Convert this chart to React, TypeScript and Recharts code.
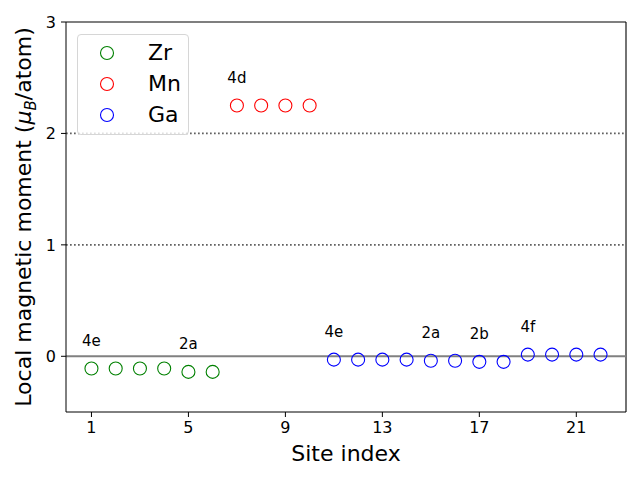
import {
  ScatterChart,
  Scatter,
  XAxis,
  YAxis,
  ReferenceLine,
} from 'recharts';

const FONT = '"DejaVu Sans", sans-serif';

// site index / moment per species
const zrX = [1, 2, 3, 4, 5, 6];
const zrY = [-0.11, -0.11, -0.11, -0.11, -0.14, -0.14];
const mnX = [7, 8, 9, 10];
const mnY = [2.25, 2.25, 2.25, 2.25];
const gaX = [11, 12, 13, 14, 15, 16, 17, 18, 19, 20, 21, 22];
const gaY = [-0.03, -0.03, -0.03, -0.03, -0.04, -0.04, -0.05, -0.05, 0.015, 0.015, 0.015, 0.015];

// Wyckoff site labels
const annoX = [1, 5, 7, 11, 15, 17, 19];
const annoY = [0.14, 0.11, 2.5, 0.22, 0.21, 0.2, 0.26];
const annoText = ['4e', '2a', '4d', '4e', '2a', '2b', '4f'];

const xTicks = [1, 5, 9, 13, 17, 21];
const yTicks = [0, 1, 2, 3];
const xDomain = [-0.05, 23.05];
const yDomain = [-0.5, 3];

const zip = (xs: number[], ys: number[]) => xs.map((x, i) => ({ x, y: ys[i] }));
const zrData = zip(zrX, zrY);
const mnData = zip(mnX, mnY);
const gaData = zip(gaX, gaY);
const annoData = annoX.map((x, i) => ({ x, y: annoY[i], t: annoText[i] }));

const colors: Record<string, string> = { Zr: '#008000', Mn: '#ff0000', Ga: '#0000ff' };

const ring = (color: string) => (props: any) => (
  <circle cx={props.cx} cy={props.cy} r={6.5} fill="none" stroke={color} strokeWidth={1.1} />
);

const annoShape = (props: any) => (
  <text
    x={props.cx}
    y={props.cy}
    textAnchor="middle"
    dominantBaseline="central"
    fontSize={15}
    fontFamily={FONT}
    fill="#000"
  >
    {props.payload.t}
  </text>
);

function YLabel(props: any) {
  const vb = props.viewBox;
  const cx = 31;
  const cy = vb.y + vb.height / 2;
  return (
    <text
      x={cx}
      y={cy}
      transform={`rotate(-90, ${cx}, ${cy})`}
      textAnchor="middle"
      fontSize={22}
      fontFamily={FONT}
      fill="#000"
    >
      Local magnetic moment (
      <tspan fontStyle="italic">μ</tspan>
      <tspan fontStyle="italic" fontSize={15} dy={5}>B</tspan>
      <tspan dy={-5}>/atom)</tspan>
    </text>
  );
}

function XLabel(props: any) {
  const vb = props.viewBox;
  return (
    <text
      x={vb.x + vb.width / 2}
      y={461}
      textAnchor="middle"
      fontSize={22}
      fontFamily={FONT}
      fill="#000"
    >
      Site index
    </text>
  );
}

function LegendBox() {
  const names = ['Zr', 'Mn', 'Ga'];
  return (
    <div
      style={{
        position: 'absolute',
        left: 77,
        top: 34,
        width: 110,
        height: 97,
        border: '1px solid #d6d6d6',
        borderRadius: 4,
        background: 'rgba(255,255,255,0.8)',
        paddingTop: 2,
        boxSizing: 'content-box',
        fontFamily: FONT,
      }}
    >
      {names.map((n) => (
        <div key={n} style={{ display: 'flex', alignItems: 'center', height: 31 }}>
          <svg width={16} height={16} style={{ marginLeft: 21 }}>
            <circle cx={8} cy={8} r={6.5} fill="none" stroke={colors[n]} strokeWidth={1.1} />
          </svg>
          <span style={{ marginLeft: 33, fontSize: 22, color: '#000', lineHeight: '31px' }}>{n}</span>
        </div>
      ))}
    </div>
  );
}

const tickStyle = { fill: '#000', fontSize: 16, fontFamily: FONT };

export default function App() {
  return (
    <div style={{ position: 'absolute', left: 0, top: 0, width: 640, height: 480, background: '#fff' }}>
      <ScatterChart width={640} height={480} margin={{ top: 22, right: 14, bottom: 0, left: 0 }}>
        <XAxis
          dataKey="x"
          type="number"
          domain={xDomain}
          ticks={xTicks}
          allowDataOverflow
          height={68}
          tick={tickStyle}
          tickSize={5}
          tickMargin={5}
          stroke="#000"
          label={<XLabel />}
        />
        <YAxis
          dataKey="y"
          type="number"
          domain={yDomain}
          ticks={yTicks}
          allowDataOverflow
          width={66}
          tick={tickStyle}
          tickSize={5}
          tickMargin={5}
          stroke="#000"
          label={<YLabel />}
        />
        <ReferenceLine y={yDomain[1]} stroke="#000" strokeWidth={1.1} />
        <ReferenceLine x={xDomain[1]} stroke="#000" strokeWidth={1.1} />
        <ReferenceLine y={0} stroke="#808080" strokeWidth={2} />
        <ReferenceLine y={1} stroke="#606060" strokeWidth={1.7} strokeDasharray="1.7 2.3" />
        <ReferenceLine y={2} stroke="#606060" strokeWidth={1.7} strokeDasharray="1.7 2.3" />
        <Scatter name="Zr" data={zrData} shape={ring(colors.Zr)} isAnimationActive={false} />
        <Scatter name="Mn" data={mnData} shape={ring(colors.Mn)} isAnimationActive={false} />
        <Scatter name="Ga" data={gaData} shape={ring(colors.Ga)} isAnimationActive={false} />
        <Scatter data={annoData} shape={annoShape} legendType="none" isAnimationActive={false} />
      </ScatterChart>
      <LegendBox />
    </div>
  );
}
